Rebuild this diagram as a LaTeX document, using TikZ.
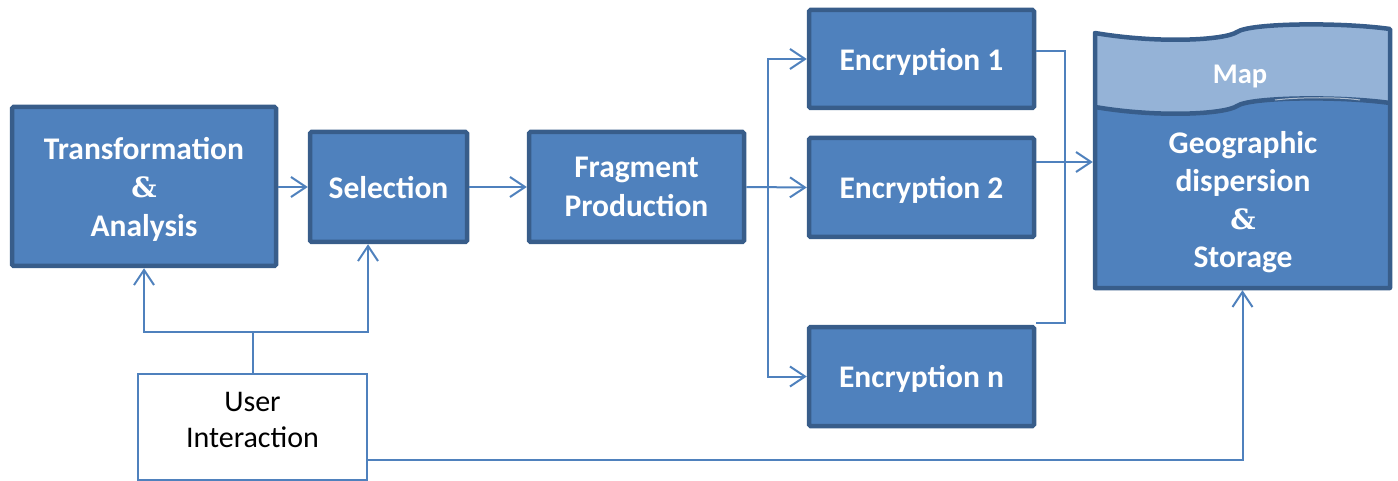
\documentclass[tikz,border=0pt]{standalone}
\usepackage{fontspec}
\setmainfont{Carlito}
\newfontfamily\ampfont{DejaVu Serif}
\usetikzlibrary{arrows.meta}
\definecolor{boxfill}{HTML}{4F81BD}
\definecolor{boxline}{HTML}{385D8A}
\definecolor{mapfill}{HTML}{95B3D7}
\definecolor{conn}{HTML}{4F81BD}
\tikzset{
  blue box/.style={draw=boxline, fill=boxfill, line width=4.5pt, rounded corners=1.5pt,
    text=white, font=\fontsize{31.5}{38.5}\selectfont\bfseries, align=center, inner sep=0pt,
    text depth=0pt},
  white box/.style={draw=conn, fill=white, line width=2pt, text=black,
    font=\fontsize{30}{36}\selectfont, align=center, inner sep=0pt, text depth=14pt},
  conn line/.style={draw=conn, line width=2pt},
  arr/.style={conn line, -{Straight Barb[length=15pt,width=20pt,line width=2pt]}},
}
\newcommand{\andsym}{{\ampfont\bfseries\fontsize{28}{38.5}\selectfont\&}}
\begin{document}
\begin{tikzpicture}[x=1pt,y=-1pt]
\useasboundingbox (0,0) rectangle (1398,481);
% boxes
\node[blue box, minimum width=264pt, minimum height=159pt] (ta) at (144,186.5)
  {Transformation\\\andsym\\Analysis};
\node[blue box, minimum width=157pt, minimum height=110pt] (sel) at (388.5,187) {Selection};
\node[blue box, minimum width=215pt, minimum height=110pt] (frag) at (636.5,187) {Fragment\\Production};
\node[blue box, minimum width=225pt, minimum height=98pt] (e1) at (921.5,59) {Encryption 1};
\node[blue box, minimum width=225pt, minimum height=99pt] (e2) at (921.5,187.5) {Encryption 2};
\node[blue box, minimum width=225pt, minimum height=99pt] (en) at (921.5,376.5) {Encryption n};
\node[white box, minimum width=229pt, minimum height=106pt] (ui) at (252.5,427) {User\\Interaction};
% storage shape
\node[minimum width=299pt, minimum height=258pt, inner sep=0pt] (st) at (1242.5,161) {};
\fill[boxfill] (1095,107) .. controls (1160,118) and (1225,114) .. (1237,106)
  .. controls (1250,97) and (1340,96) .. (1390,103) -- (1390,288) -- (1095,288) -- cycle;
\fill[mapfill] (1095,33) .. controls (1160,44) and (1225,40) .. (1237,32)
  .. controls (1250,23) and (1340,22) .. (1390,29) -- (1390,103)
  .. controls (1340,96) and (1250,97) .. (1237,106)
  .. controls (1225,114) and (1160,118) .. (1095,107) -- cycle;
\draw[boxline, line width=4.5pt, line join=round] (1095,33) .. controls (1160,44) and (1225,40) .. (1237,32)
  .. controls (1250,23) and (1340,22) .. (1390,29) -- (1390,288) -- (1095,288) -- cycle;
\draw[boxline, line width=4.5pt] (1095,107) .. controls (1160,118) and (1225,114) .. (1237,106)
  .. controls (1250,97) and (1340,96) .. (1390,103);
\draw[white, opacity=0.6, line width=1pt] (1275,100) .. controls (1300,97) and (1340,97) .. (1360,100);
\node[text=white, font=\fontsize{28.5}{34}\selectfont\bfseries] (map) at (1240,77) {Map};
\node[text=white, font=\fontsize{31.5}{38}\selectfont\bfseries, align=center] (gds) at (1243,202)
  {Geographic\\dispersion\\\andsym\\Storage};
% connectors
\draw[arr] (ta.east |- sel.west) -- (sel.west);
\draw[arr] (sel.east) -- (frag.west);
\draw[arr] (frag.east) -- (e2.west);
\coordinate (br) at (768,187);
\draw[arr] (br) |- (e1.west);
\draw[arr] (br) |- (en.west);
\coordinate (j1) at (1065,51);
\coordinate (j2) at (1065,323);
\draw[conn line] (e1.east |- j1) -- (j1) -- (j2) -- (en.north east |- j2);
\draw[arr] (e2.east |- 0,162) -- (st.west |- 0,162);
\coordinate (uj) at (ui.north |- 0,332);
\draw[arr] (ui.north) -- (uj) -| (ta.south);
\draw[arr] (uj) -| (sel.south -| ui.east);
\draw[arr] (ui.east |- 0,460) -| (st.south);
\end{tikzpicture}
\end{document}
